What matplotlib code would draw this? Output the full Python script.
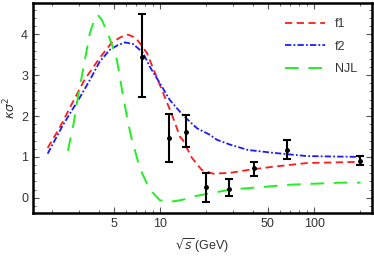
import matplotlib
matplotlib.use('Agg')
import matplotlib.pyplot as plt
from matplotlib.ticker import LogLocator, FixedLocator, NullFormatter, MultipleLocator
import numpy as np

plt.rcParams['font.family'] = ['Liberation Sans', 'DejaVu Sans']
plt.rcParams['mathtext.fontset'] = 'dejavusans'

# кривая f1
f1_x = [1.87, 2.24, 2.72, 3.26, 4.07, 4.88, 5.58, 6.2, 6.9, 7.41, 8.24, 9.29,
        10.5, 12.0, 13.5, 14.1, 16.1, 18.7, 22.1, 28.5, 37.2, 54.2, 90.1, 200]
f1_y = [1.22, 1.72, 2.34, 2.90, 3.42, 3.80, 3.93, 3.99, 3.92, 3.78, 3.54, 3.05,
        2.56, 2.02, 1.49, 1.41, 0.98, 0.68, 0.59, 0.61, 0.68, 0.76, 0.85, 0.88]

# кривая f2
f2_x = [1.87, 2.35, 3.03, 3.5, 4.07, 4.73, 5.26, 5.93, 6.7, 7.76, 8.61, 10.0,
        11.6, 14.1, 17.4, 21.1, 23.4, 28.5, 37.2, 54.2, 90.1, 200]
f2_y = [1.08, 1.78, 2.46, 2.87, 3.33, 3.62, 3.72, 3.80, 3.76, 3.55, 3.20, 2.80,
        2.39, 2.02, 1.70, 1.54, 1.42, 1.30, 1.17, 1.10, 1.02, 1.00]

# NJL
njl_x = [2.53, 2.75, 2.95, 3.26, 3.51, 3.75, 3.96, 4.2, 4.59, 4.88, 5.26, 5.7,
         6.11, 6.5, 7.41, 8.3, 9.01, 10.0, 11.6, 13.5, 15.0, 17.4, 28.5, 38.4,
         69.9, 147, 200]
njl_y = [1.15, 1.80, 2.50, 3.37, 4.02, 4.35, 4.47, 4.35, 4.02, 3.75, 3.37, 2.60,
         1.98, 1.50, 0.72, 0.32, 0.12, -0.06, -0.10, -0.06, -0.02, 0.05, 0.20, 0.24,
         0.32, 0.37, 0.37]

data_x = [7.7, 11.5, 14.8, 20.0, 28.0, 41.0, 67.0, 200]
data_y = [3.44, 1.46, 1.61, 0.27, 0.22, 0.73, 1.17, 0.90]
data_lo = [2.46, 0.88, 1.24, -0.10, 0.05, 0.54, 0.95, 0.80]
data_hi = [4.49, 2.05, 2.02, 0.61, 0.46, 0.88, 1.41, 1.02]

fig = plt.figure(figsize=(3.74, 2.60), dpi=100)
ax = fig.add_axes([0.088, 0.181, 0.907, 0.807])

ax.plot(f1_x, f1_y, color='#ff1a1a', lw=1.3, dashes=(4, 2.5), label='f1')
ax.plot(f2_x, f2_y, color='#1a1aff', lw=1.3, dashes=(3.5, 1.2, 1, 1.2), label='f2')
ax.plot(njl_x, njl_y, color='#22ee22', lw=1.4, dashes=(7, 5), label='NJL')

yerr = [np.array(data_y) - np.array(data_lo), np.array(data_hi) - np.array(data_y)]
ax.errorbar(data_x, data_y, yerr=yerr, fmt='o', ms=2.5, color='black',
            ecolor='black', elinewidth=1.5, capsize=3.2, capthick=1.5)

ax.set_xscale('log')
ax.set_xlim(1.5, 238)
ax.set_ylim(-0.37, 4.76)

ax.xaxis.set_major_locator(FixedLocator([5, 10, 50, 100]))
ax.set_xticklabels(['5', '10', '50', '100'])
ax.xaxis.set_minor_locator(LogLocator(base=10, subs=np.arange(1, 10), numticks=20))
ax.xaxis.set_minor_formatter(NullFormatter())
ax.yaxis.set_major_locator(MultipleLocator(1))
ax.yaxis.set_minor_locator(MultipleLocator(0.2))

ax.tick_params(which='both', direction='in', top=True, right=True,
               labelsize=9, labelcolor='#333333', color='#555555')
ax.tick_params(which='major', length=4, width=0.8)
ax.tick_params(which='minor', length=2, width=0.6)
for s in ax.spines.values():
    s.set_linewidth(1.8)

ax.set_ylabel(r'$\kappa\sigma^2$', fontsize=9, color='#333333', labelpad=2)
ax.set_xlabel(r'$\sqrt{s}\,$(GeV)', fontsize=9, color='#333333', labelpad=5)

ax.legend(loc='upper right', frameon=False, fontsize=9, handlelength=3.2,
          labelspacing=0.85, borderaxespad=0.8, handletextpad=0.8,
          labelcolor='#333333')

fig.savefig('out.png', dpi=100)
